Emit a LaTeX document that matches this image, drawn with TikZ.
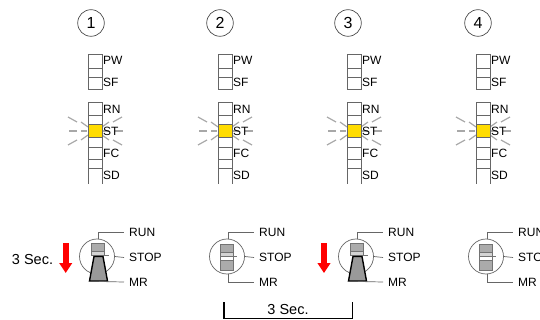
\documentclass[tikz,border=0pt]{standalone}
\usepackage{fontspec}
\setmainfont{Liberation Sans}
\usetikzlibrary{arrows.meta,positioning,calc}
\definecolor{ledline}{HTML}{666666}
\definecolor{raygray}{HTML}{A8A8A8}
\definecolor{ledon}{HTML}{FFDC00}
\definecolor{swgray}{HTML}{ABABAB}
\definecolor{swlight}{HTML}{D4D4D4}
\definecolor{lvgray}{HTML}{999999}

\begin{document}
\begin{tikzpicture}[
  x=1pt, y=-1pt,
  num/.style={draw=black!70, circle, minimum size=26.6pt, inner sep=0pt, line width=0.7pt, font=\fontsize{16}{16}\selectfont},
  lbl/.style={anchor=west, inner sep=0pt, font=\fontsize{12}{12}\selectfont},
  swlbl/.style={anchor=west, inner ysep=0pt, inner xsep=5pt, font=\fontsize{12}{12}\selectfont},
  sec/.style={inner sep=0pt, font=\fontsize{14.5}{14.5}\selectfont},
  led/.style={draw=ledline, line width=0.8pt},
  ledst/.style={draw=ledline, fill=ledon, line width=0.8pt, minimum width=14pt, minimum height=12.5pt, inner sep=0pt},
  ray/.style={draw=raygray, line width=1.2pt},
  swring/.style={draw=black!60, circle, minimum size=35pt, inner sep=0pt, line width=0.7pt},
  swbody/.style={draw=black!55, line width=0.6pt},
  leader/.style={draw=black!60, line width=0.7pt},
  lever/.style={draw=black, fill=lvgray, line width=1.4pt},
  redarr/.style={draw=red, line width=6pt, -{Triangle[length=10pt,width=12.5pt,fill=red]}},
  bracket/.style={draw=black, line width=1.1pt}
]
\clip (0,0) rectangle (540,320);

% numbers
\foreach \n/\cx in {1/91,2/220,3/348,4/478}
  \node[num] (num\n) at (\cx,23) {\n};

% LED columns
\foreach \n/\lx in {1/88,2/218,3/347,4/476} {
  \draw[led] (\lx,54) rectangle ({\lx+14},89);
  \draw[led] (\lx,68) -- ({\lx+14},68) (\lx,77) -- ({\lx+14},77);
  \draw[led] (\lx,184) -- (\lx,102) -- ({\lx+14},102) -- ({\lx+14},184);
  \foreach \yy in {115,147,159,168}
    \draw[led] (\lx,\yy) -- ({\lx+14},\yy);
  % blink rays
  \begin{scope}[shift={({\lx+7},131)}]
    \draw[ray] (-26,0) -- (-18,0) (-14,0) -- (-8,0) (8,0) -- (14,0) (20,0) -- (28,0);
    \foreach \sx in {-1,1}
      \foreach \sy in {-1,1}
        \draw[ray] ({\sx*27},{\sy*14}) -- ({\sx*18},{\sy*9}) ({\sx*14},{\sy*9}) -- ({\sx*7},{\sy*4});
  \end{scope}
  \node[ledst] (st\n) at ({\lx+7},131) {};
  \node[lbl] (pw\n) at ({\lx+15},60) {PW};
  \node[lbl] (sf\n) at ({\lx+15},82) {SF};
  \node[lbl] (rn\n) at ({\lx+15},109) {RN};
  \node[lbl] (stl\n) at ({\lx+15},131) {ST};
  \node[lbl] (fc\n) at ({\lx+15},153) {FC};
  \node[lbl] (sd\n) at ({\lx+15},175) {SD};
}

% switches
\foreach \n/\sx in {1/97,2/227,3/356,4/486} {
  \node[swring] (sw\n) at (\sx,256.5) {};
  \node[swlbl] (run\n) at ({\sx+27},232) {RUN};
  \node[swlbl] (stop\n) at ({\sx+27},257.5) {STOP};
  \node[swlbl] (mr\n) at ({\sx+27},282) {MR};
  \draw[leader] ($(sw\n.north)+(1.5,0)$) |- (run\n.west);
  \draw[leader] (sw\n.east) -- (stop\n.west);
}

% switch in the middle position
\foreach \n/\sx in {2/227,4/486} {
  \draw[swbody, fill=swgray] ({\sx-6.5},244) rectangle ({\sx+6.5},270);
  \fill[swlight] ({\sx-6},252) rectangle ({\sx+6},256);
  \fill[white] ({\sx-6},257) rectangle ({\sx+6},260);
  \draw[swbody] ({\sx-6.5},252) -- ({\sx+6.5},252);
  \draw[swbody] ({\sx-6.5},256) -- ({\sx+10},256);
  \draw[swbody] ({\sx-6.5},260) -- ({\sx+6.5},260);
  \draw[leader] ($(sw\n.south)+(1,0)$) |- (mr\n.west);
}

% switch pushed down to MR
\foreach \n/\sx in {1/97,3/356} {
  \draw[swbody, fill=swgray] ({\sx-5.5},243) rectangle ({\sx+7.5},251);
  \draw[swbody, fill=swlight] ({\sx-5.5},251) rectangle ({\sx+7.5},255);
  \draw[swbody] ({\sx-5.5},255.5) -- ({\sx+12},255.5);
  \draw[lever] ({\sx-3},256.5) -- ({\sx+6},256.5) -- ({\sx+10.5},281) -- ({\sx-7.5},281) -- cycle;
  \draw[leader] ({\sx+2},281.5) -- (mr\n.west);
}

% arrows
\coordinate (arra) at (65.7,243);
\coordinate (arrb) at (65.7,273);
\coordinate (arrc) at (324,243);
\coordinate (arrd) at (324,273);
\draw[redarr] (arra) -- (arrb);
\draw[redarr] (arrc) -- (arrd);
\node[sec] (sec1) at (32.5,260) {3 Sec.};

% bracket
\coordinate (bra) at (224,302);
\coordinate (brb) at (224,318.5);
\coordinate (brc) at (352.7,318.5);
\coordinate (brd) at (352.7,302);
\draw[bracket] (bra) -- (brb) -- (brc) -- (brd);
\node[sec] (sec2) at (288,310) {3 Sec.};
\end{tikzpicture}
\end{document}
